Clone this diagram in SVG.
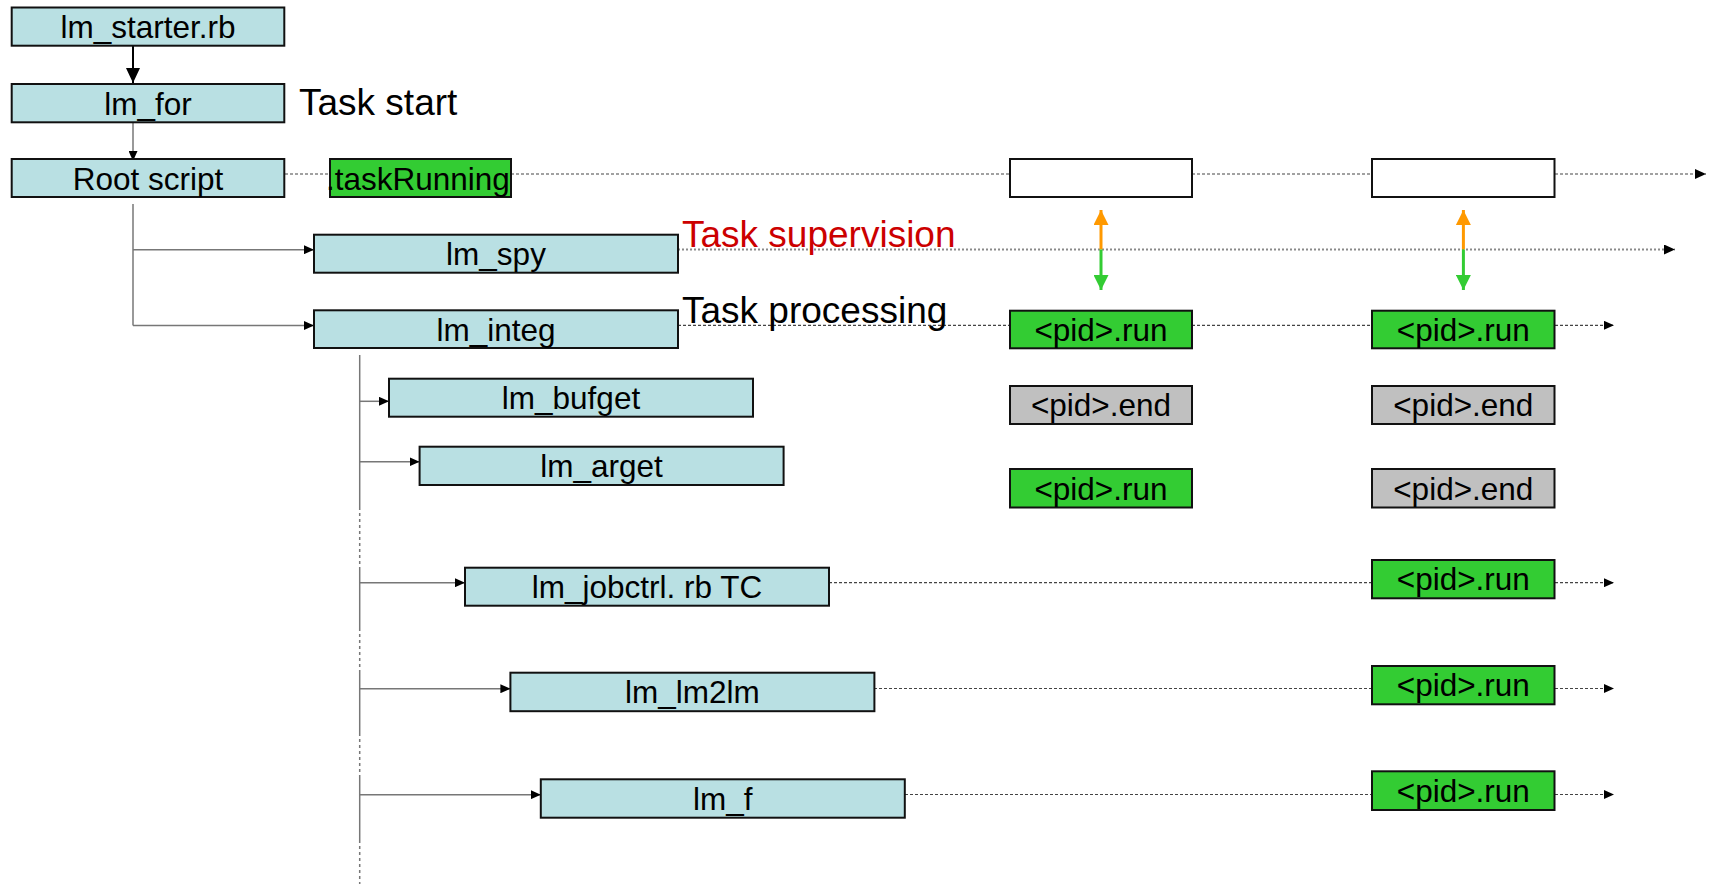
<svg xmlns="http://www.w3.org/2000/svg" width="1711" height="884" viewBox="0 0 1711 884">
<style>
  .bg { fill: #ffffff; }
  .box { stroke: #111111; stroke-width: 2; }
  .blue { fill: #B9E0E3; }
  .green { fill: #33CC33; }
  .grey { fill: #C0C0C0; }
  .white { fill: #ffffff; }
  .lbl { font-family: "Liberation Sans", Arial, sans-serif; font-size: 31.5px; fill: #000000; text-anchor: middle; }
  .big { font-family: "Liberation Sans", Arial, sans-serif; font-size: 37px; fill: #000000; }
  .red { fill: #CC0000; }
  .dot { fill: none; stroke: #444444; stroke-width: 1.2; stroke-dasharray: 3 2; }
  .dotl { fill: none; stroke: #8a8a8a; stroke-width: 1.8; stroke-dasharray: 2 2; }
  .solid { fill: none; stroke: #777777; stroke-width: 1.5; }
  .vdot { fill: none; stroke: #777777; stroke-width: 1.5; stroke-dasharray: 3 3; }
</style>
<defs>
  <marker id="mDot" markerUnits="userSpaceOnUse" markerWidth="11" markerHeight="10" refX="11" refY="5" orient="auto">
    <path d="M0,0 L11,5 L0,10 z" fill="#000000"/>
  </marker>
  <marker id="mSmall" markerUnits="userSpaceOnUse" markerWidth="10" markerHeight="9" refX="10" refY="4.5" orient="auto">
    <path d="M0,0 L10,4.5 L0,9 z" fill="#000000"/>
  </marker>
  <marker id="mBig" markerUnits="userSpaceOnUse" markerWidth="15" markerHeight="14" refX="15" refY="7" orient="auto">
    <path d="M0,0 L15,7 L0,14 z" fill="#000000"/>
  </marker>
  <marker id="mOrange" markerUnits="userSpaceOnUse" markerWidth="15" markerHeight="15" refX="15" refY="7.5" orient="auto">
    <path d="M0,0 L15,7.5 L0,15 z" fill="#FF9900"/>
  </marker>
  <marker id="mGreen" markerUnits="userSpaceOnUse" markerWidth="15" markerHeight="15" refX="15" refY="7.5" orient="auto">
    <path d="M0,0 L15,7.5 L0,15 z" fill="#33CC33"/>
  </marker>
</defs>
<rect class="bg" x="0" y="0" width="1711" height="884"/>

<g id="connectors">
  <!-- top chain -->
  <line x1="133" y1="46" x2="133" y2="83" stroke="#000000" stroke-width="2" marker-end="url(#mBig)"/>
  <line x1="133" y1="122.5" x2="133" y2="161" stroke="#777777" stroke-width="1.5" marker-end="url(#mSmall)"/>
  <!-- root branches -->
  <polyline class="solid" points="133,204 133,325.5"/>
  <line class="solid" x1="133" y1="249.7" x2="314" y2="249.7" marker-end="url(#mSmall)"/>
  <line class="solid" x1="133" y1="325.5" x2="314" y2="325.5" marker-end="url(#mSmall)"/>
  <!-- lm_integ branches -->
  <line class="solid" x1="359.7" y1="355" x2="359.7" y2="507"/>
  <line class="vdot" x1="359.7" y1="507" x2="359.7" y2="567"/>
  <line class="solid" x1="359.7" y1="567" x2="359.7" y2="628"/>
  <line class="vdot" x1="359.7" y1="628" x2="359.7" y2="672"/>
  <line class="solid" x1="359.7" y1="672" x2="359.7" y2="733"/>
  <line class="vdot" x1="359.7" y1="733" x2="359.7" y2="778"/>
  <line class="solid" x1="359.7" y1="778" x2="359.7" y2="840"/>
  <line class="vdot" x1="359.7" y1="840" x2="359.7" y2="884"/>
  <line class="solid" x1="359.7" y1="401.3" x2="389" y2="401.3" marker-end="url(#mSmall)"/>
  <line class="solid" x1="359.7" y1="461.7" x2="419.6" y2="461.7" marker-end="url(#mSmall)"/>
  <line class="solid" x1="359.7" y1="582.7" x2="465" y2="582.7" marker-end="url(#mSmall)"/>
  <line class="solid" x1="359.7" y1="688.7" x2="510.4" y2="688.7" marker-end="url(#mSmall)"/>
  <line class="solid" x1="359.7" y1="794.7" x2="540.8" y2="794.7" marker-end="url(#mSmall)"/>
  <!-- timeline: task running -->
  <line class="dot" x1="285" y1="174" x2="330" y2="174"/>
  <line class="dot" x1="511" y1="174" x2="1010" y2="174"/>
  <line class="dot" x1="1192" y1="174" x2="1372" y2="174"/>
  <line class="dot" x1="1555" y1="174" x2="1706" y2="174" marker-end="url(#mDot)"/>
  <!-- timeline: supervision -->
  <line class="dotl" x1="678" y1="249.5" x2="1675" y2="249.5" marker-end="url(#mDot)"/>
  <!-- timeline: processing -->
  <line class="dot" x1="678" y1="325.3" x2="1010" y2="325.3"/>
  <line class="dot" x1="1192" y1="325.3" x2="1372" y2="325.3"/>
  <line class="dot" x1="1555" y1="325.3" x2="1614" y2="325.3" marker-end="url(#mSmall)"/>
  <line class="dot" x1="829" y1="582.7" x2="1372" y2="582.7"/>
  <line class="dot" x1="1555" y1="582.7" x2="1614" y2="582.7" marker-end="url(#mSmall)"/>
  <line class="dot" x1="874" y1="688.5" x2="1372" y2="688.5"/>
  <line class="dot" x1="1555" y1="688.5" x2="1614" y2="688.5" marker-end="url(#mSmall)"/>
  <line class="dot" x1="905" y1="794.5" x2="1372" y2="794.5"/>
  <line class="dot" x1="1555" y1="794.5" x2="1614" y2="794.5" marker-end="url(#mSmall)"/>
  <!-- supervision double arrows -->
  <line x1="1101" y1="249.5" x2="1101" y2="210" stroke="#FF9900" stroke-width="3" marker-end="url(#mOrange)"/>
  <line x1="1101" y1="249.5" x2="1101" y2="290" stroke="#33CC33" stroke-width="3" marker-end="url(#mGreen)"/>
  <line x1="1463.4" y1="249.5" x2="1463.4" y2="210" stroke="#FF9900" stroke-width="3" marker-end="url(#mOrange)"/>
  <line x1="1463.4" y1="249.5" x2="1463.4" y2="290" stroke="#33CC33" stroke-width="3" marker-end="url(#mGreen)"/>
</g>

<g id="n_starter"><rect class="box blue" x="11.7" y="7.5" width="272.6" height="38.2"/><text class="lbl" x="148" y="37.5">lm_starter.rb</text></g>
<g id="n_for"><rect class="box blue" x="11.7" y="84" width="272.6" height="38.3"/><text class="lbl" x="148" y="114.5">lm_for</text></g>
<g id="n_root"><rect class="box blue" x="11.7" y="159" width="272.6" height="38"/><text class="lbl" x="148" y="189.5">Root script</text></g>
<g id="n_taskRunning"><rect class="box green" x="330" y="159" width="181" height="38"/><text class="lbl" x="326" y="189.5" style="text-anchor:start">.taskRunning</text></g>
<g id="lbl_taskstart"><text class="big" x="299" y="114.5">Task start</text></g>

<g id="n_spy"><rect class="box blue" x="314" y="234.7" width="364" height="38"/><text class="lbl" x="496" y="265">lm_spy</text></g>
<g id="n_integ"><rect class="box blue" x="314" y="310.3" width="364" height="37.7"/><text class="lbl" x="496" y="340.5">lm_integ</text></g>
<g id="lbl_supervision"><text class="big red" x="682" y="246.5">Task supervision</text></g>
<g id="lbl_processing"><text class="big" x="682" y="323">Task processing</text></g>

<g id="n_bufget"><rect class="box blue" x="389" y="378.7" width="364" height="38"/><text class="lbl" x="571" y="409">lm_bufget</text></g>
<g id="n_arget"><rect class="box blue" x="419.6" y="446.7" width="364" height="38.3"/><text class="lbl" x="601.6" y="477">lm_arget</text></g>
<g id="n_jobctrl"><rect class="box blue" x="465" y="567.7" width="364" height="38"/><text class="lbl" x="647" y="598">lm_jobctrl. rb TC</text></g>
<g id="n_lm2lm"><rect class="box blue" x="510.4" y="672.7" width="364" height="38.5"/><text class="lbl" x="692.4" y="703">lm_lm2lm</text></g>
<g id="n_f"><rect class="box blue" x="540.8" y="779.3" width="364" height="38.4"/><text class="lbl" x="722.8" y="809.5">lm_f</text></g>

<g id="n_w1"><rect class="box white" x="1010" y="159" width="182" height="38"/></g>
<g id="n_w2"><rect class="box white" x="1372" y="159" width="182.5" height="38"/></g>

<g id="n_r1a"><rect class="box green" x="1010" y="310.7" width="182" height="37.6"/><text class="lbl" x="1101" y="341">&lt;pid&gt;.run</text></g>
<g id="n_r1b"><rect class="box grey" x="1010" y="386" width="182" height="38"/><text class="lbl" x="1101" y="416">&lt;pid&gt;.end</text></g>
<g id="n_r1c"><rect class="box green" x="1010" y="469" width="182" height="38.5"/><text class="lbl" x="1101" y="499.5">&lt;pid&gt;.run</text></g>

<g id="n_r2a"><rect class="box green" x="1372" y="310.7" width="182.5" height="37.6"/><text class="lbl" x="1463.3" y="341">&lt;pid&gt;.run</text></g>
<g id="n_r2b"><rect class="box grey" x="1372" y="386" width="182.5" height="38"/><text class="lbl" x="1463.3" y="416">&lt;pid&gt;.end</text></g>
<g id="n_r2c"><rect class="box grey" x="1372" y="469" width="182.5" height="38.5"/><text class="lbl" x="1463.3" y="499.5">&lt;pid&gt;.end</text></g>
<g id="n_r2d"><rect class="box green" x="1372" y="560" width="182.5" height="38.3"/><text class="lbl" x="1463.3" y="590">&lt;pid&gt;.run</text></g>
<g id="n_r2e"><rect class="box green" x="1372" y="666" width="182.5" height="38.3"/><text class="lbl" x="1463.3" y="696">&lt;pid&gt;.run</text></g>
<g id="n_r2f"><rect class="box green" x="1372" y="771.3" width="182.5" height="38.7"/><text class="lbl" x="1463.3" y="801.5">&lt;pid&gt;.run</text></g>
</svg>
